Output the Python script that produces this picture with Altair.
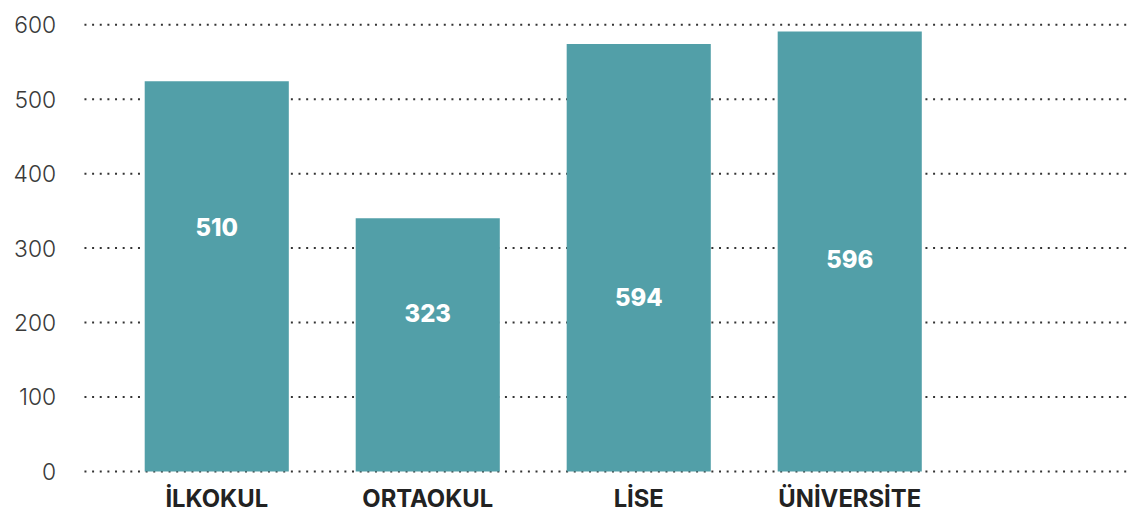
import altair as alt
import pandas as pd

categories = ["İLKOKUL", "ORTAOKUL", "LİSE", "ÜNİVERSİTE"]
bar_values = [524, 340, 574, 591]
label_texts = ["510", "323", "594", "596"]
label_y = [325, 210, 231, 282]
grid_values = [0, 100, 200, 300, 400, 500, 600]

df = pd.DataFrame({
    "cat": categories,
    "value": bar_values,
    "label": label_texts,
    "label_y": label_y,
})
grid_df = pd.DataFrame({"g": grid_values})

y_scale = alt.Scale(domain=[0, 600], nice=False, zero=True)
y_axis = alt.Axis(
    title=None, ticks=False, domain=False, grid=False,
    values=grid_values,
    labelFont="Inter", labelFontWeight=300, labelFontSize=23,
    labelColor="#3a3a3a", labelPadding=29, labelOffset=1,
)

grid = alt.Chart(grid_df).mark_rule(
    color="#333333", strokeWidth=2, strokeDash=[2, 5.7]
).encode(
    y=alt.Y("g:Q", scale=y_scale, axis=y_axis),
    x=alt.value(0),
    x2=alt.value(1050),
)

x_enc = alt.X(
    "cat:N",
    sort=categories,
    scale=alt.Scale(range=[27, 877], paddingInner=0.317, paddingOuter=0.1585),
    axis=alt.Axis(
        title=None, ticks=False, domain=False, grid=False,
        labelAngle=0, labelFont="Inter", labelFontWeight=700,
        labelFontSize=24, labelColor="#222222", labelPadding=16,
    ),
)

bars = alt.Chart(df).mark_bar(color="#529fa8").encode(
    x=x_enc,
    y=alt.Y("value:Q", scale=y_scale, axis=y_axis),
)

texts = alt.Chart(df).mark_text(
    font="Inter", fontWeight=800, fontSize=24, color="white", baseline="middle"
).encode(
    x=alt.X("cat:N", sort=categories),
    y=alt.Y("label_y:Q", scale=y_scale),
    text="label:N",
)

chart = (grid + bars + texts).properties(
    width=1050,
    height=450,
    autosize=alt.AutoSizeParams(type="none"),
    padding={"left": 77, "top": 15, "right": 0, "bottom": 46},
).configure_view(stroke=None)

chart.save("out.html", embed_options={"renderer": "svg", "actions": False})
